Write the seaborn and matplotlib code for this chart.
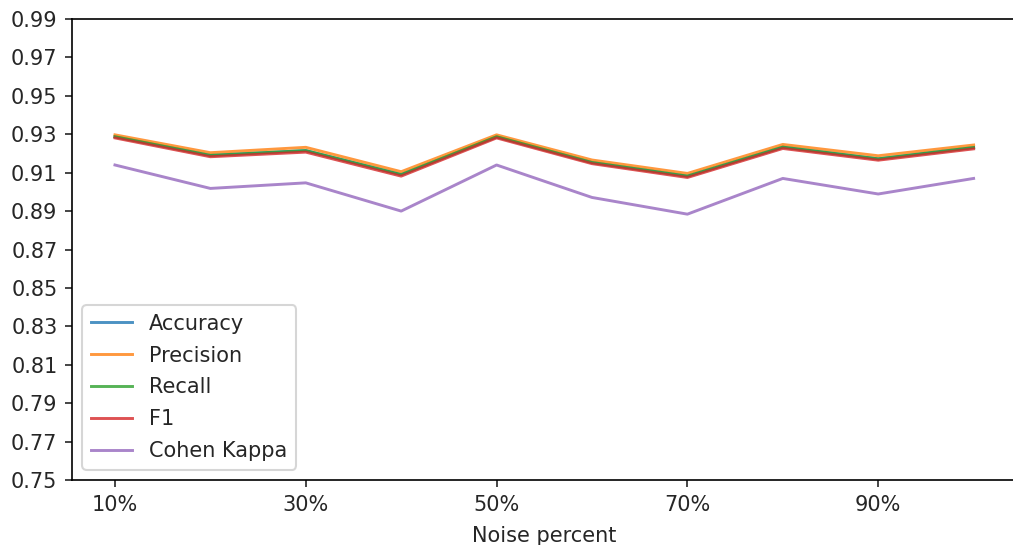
import matplotlib
matplotlib.use("Agg")
import matplotlib.pyplot as plt
import numpy as np
import pandas as pd
import seaborn as sns

# Noise levels and per-metric scores
noise = ["10%", "20%", "30%", "40%", "50%", "60%", "70%", "80%", "90%", "100%"]
accuracy = [0.9287, 0.9190, 0.9215, 0.9090, 0.9287, 0.9153, 0.9082, 0.9233, 0.9172, 0.9231]
precision = [0.9297, 0.9204, 0.9232, 0.9105, 0.9297, 0.9166, 0.9096, 0.9247, 0.9188, 0.9244]
recall = [0.9287, 0.9190, 0.9215, 0.9090, 0.9287, 0.9153, 0.9082, 0.9233, 0.9172, 0.9231]
f1 = [0.9281, 0.9183, 0.9207, 0.9082, 0.9281, 0.9147, 0.9075, 0.9226, 0.9165, 0.9224]
kappa = [0.9140, 0.9018, 0.9047, 0.8900, 0.9140, 0.8971, 0.8884, 0.9070, 0.8989, 0.9070]

metrics = {
    "Accuracy": accuracy,
    "Precision": precision,
    "Recall": recall,
    "F1": f1,
    "Cohen Kappa": kappa,
}

rows = []
for name, vals in metrics.items():
    for i, (lvl, v) in enumerate(zip(noise, vals)):
        rows.append({"pos": i, "noise": lvl, "metric": name, "value": v})
df = pd.DataFrame(rows)

DPI = 150
fig = plt.figure(figsize=(1013 / DPI, 545 / DPI), dpi=DPI)
ax = fig.add_axes([0.0711, 0.1193, 0.9324, 0.8458])

sns.lineplot(data=df, x="pos", y="value", hue="metric",
             palette=sns.color_palette("tab10", len(metrics)),
             linewidth=1.4, alpha=0.8, ax=ax)

ax.set_xlim(-0.45, len(noise) - 1 + 0.45)
ax.set_ylim(0.75, 0.99)
yt = np.arange(0.75, 0.9901, 0.02)
ax.set_yticks(np.round(yt, 2))
ax.set_yticklabels([f"{t:.2f}" for t in yt])
ax.set_xticks(range(0, len(noise), 2))
ax.set_xticklabels(noise[::2])
ax.tick_params(colors="#262626", labelcolor="#262626")
ax.set_xlabel("Noise percent", color="#262626", labelpad=5.5)
ax.set_ylabel("")
leg = ax.legend(loc="lower left", title=None, labelcolor="#262626",
                labelspacing=0.57)
for h in leg.legend_handles:
    h.set_alpha(0.8)

fig.savefig("out.png", dpi=DPI)
